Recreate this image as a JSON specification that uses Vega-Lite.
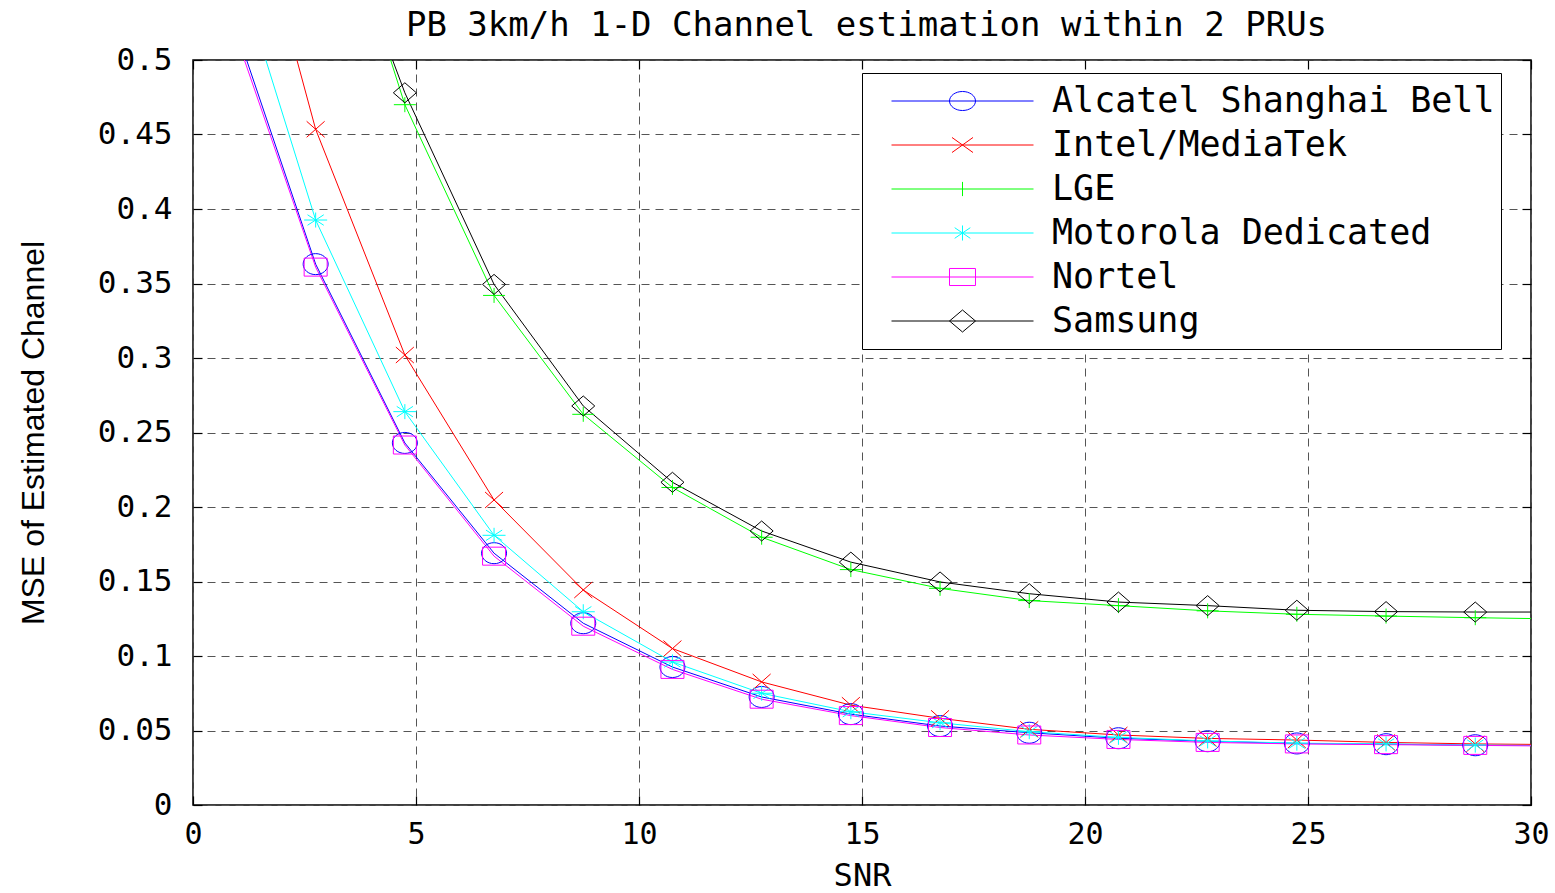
{
  "$schema": "https://vega.github.io/schema/vega-lite/v6.json",
  "width": 1338,
  "height": 745,
  "autosize": {"type": "none"},
  "padding": {"left": 193, "top": 60, "right": 24, "bottom": 88},
  "background": "white",
  "config": {
    "view": {"stroke": "black", "strokeWidth": 1.5},
    "axis": {"domain": false, "tickColor": "black", "tickWidth": 1.2, "tickSize": -9}
  },
  "data": {
    "values": [
      {"series": "Alcatel Shanghai Bell", "snr": 0.75, "mse": 0.54},
      {"series": "Alcatel Shanghai Bell", "snr": 2.75, "mse": 0.363},
      {"series": "Alcatel Shanghai Bell", "snr": 4.75, "mse": 0.243},
      {"series": "Alcatel Shanghai Bell", "snr": 6.75, "mse": 0.169},
      {"series": "Alcatel Shanghai Bell", "snr": 8.75, "mse": 0.122},
      {"series": "Alcatel Shanghai Bell", "snr": 10.75, "mse": 0.0926},
      {"series": "Alcatel Shanghai Bell", "snr": 12.75, "mse": 0.0725},
      {"series": "Alcatel Shanghai Bell", "snr": 14.75, "mse": 0.061},
      {"series": "Alcatel Shanghai Bell", "snr": 16.75, "mse": 0.053},
      {"series": "Alcatel Shanghai Bell", "snr": 18.75, "mse": 0.0485},
      {"series": "Alcatel Shanghai Bell", "snr": 20.75, "mse": 0.0448},
      {"series": "Alcatel Shanghai Bell", "snr": 22.75, "mse": 0.0428},
      {"series": "Alcatel Shanghai Bell", "snr": 24.75, "mse": 0.0413},
      {"series": "Alcatel Shanghai Bell", "snr": 26.75, "mse": 0.0408},
      {"series": "Alcatel Shanghai Bell", "snr": 28.75, "mse": 0.0401},
      {"series": "Alcatel Shanghai Bell", "snr": 30.75, "mse": 0.0398},
      {"series": "Intel/MediaTek", "snr": 0.75, "mse": 0.675},
      {"series": "Intel/MediaTek", "snr": 2.75, "mse": 0.4535},
      {"series": "Intel/MediaTek", "snr": 4.75, "mse": 0.302},
      {"series": "Intel/MediaTek", "snr": 6.75, "mse": 0.2047},
      {"series": "Intel/MediaTek", "snr": 8.75, "mse": 0.1443},
      {"series": "Intel/MediaTek", "snr": 10.75, "mse": 0.105},
      {"series": "Intel/MediaTek", "snr": 12.75, "mse": 0.0826},
      {"series": "Intel/MediaTek", "snr": 14.75, "mse": 0.067},
      {"series": "Intel/MediaTek", "snr": 16.75, "mse": 0.0582},
      {"series": "Intel/MediaTek", "snr": 18.75, "mse": 0.0508},
      {"series": "Intel/MediaTek", "snr": 20.75, "mse": 0.047},
      {"series": "Intel/MediaTek", "snr": 22.75, "mse": 0.0447},
      {"series": "Intel/MediaTek", "snr": 24.75, "mse": 0.0436},
      {"series": "Intel/MediaTek", "snr": 26.75, "mse": 0.042},
      {"series": "Intel/MediaTek", "snr": 28.75, "mse": 0.041},
      {"series": "Intel/MediaTek", "snr": 30.75, "mse": 0.0405},
      {"series": "LGE", "snr": 2.75, "mse": 0.658},
      {"series": "LGE", "snr": 4.75, "mse": 0.47},
      {"series": "LGE", "snr": 6.75, "mse": 0.342},
      {"series": "LGE", "snr": 8.75, "mse": 0.2622},
      {"series": "LGE", "snr": 10.75, "mse": 0.2131},
      {"series": "LGE", "snr": 12.75, "mse": 0.1797},
      {"series": "LGE", "snr": 14.75, "mse": 0.158},
      {"series": "LGE", "snr": 16.75, "mse": 0.1454},
      {"series": "LGE", "snr": 18.75, "mse": 0.1372},
      {"series": "LGE", "snr": 20.75, "mse": 0.1338},
      {"series": "LGE", "snr": 22.75, "mse": 0.1303},
      {"series": "LGE", "snr": 24.75, "mse": 0.128},
      {"series": "LGE", "snr": 26.75, "mse": 0.1268},
      {"series": "LGE", "snr": 28.75, "mse": 0.1257},
      {"series": "LGE", "snr": 30.75, "mse": 0.1248},
      {"series": "Motorola Dedicated", "snr": 0.75, "mse": 0.585},
      {"series": "Motorola Dedicated", "snr": 2.75, "mse": 0.3926},
      {"series": "Motorola Dedicated", "snr": 4.75, "mse": 0.264},
      {"series": "Motorola Dedicated", "snr": 6.75, "mse": 0.181},
      {"series": "Motorola Dedicated", "snr": 8.75, "mse": 0.1297},
      {"series": "Motorola Dedicated", "snr": 10.75, "mse": 0.096},
      {"series": "Motorola Dedicated", "snr": 12.75, "mse": 0.075},
      {"series": "Motorola Dedicated", "snr": 14.75, "mse": 0.0626},
      {"series": "Motorola Dedicated", "snr": 16.75, "mse": 0.0552},
      {"series": "Motorola Dedicated", "snr": 18.75, "mse": 0.0492},
      {"series": "Motorola Dedicated", "snr": 20.75, "mse": 0.0454},
      {"series": "Motorola Dedicated", "snr": 22.75, "mse": 0.043},
      {"series": "Motorola Dedicated", "snr": 24.75, "mse": 0.0415},
      {"series": "Motorola Dedicated", "snr": 26.75, "mse": 0.041},
      {"series": "Motorola Dedicated", "snr": 28.75, "mse": 0.0402},
      {"series": "Motorola Dedicated", "snr": 30.75, "mse": 0.0398},
      {"series": "Nortel", "snr": 0.75, "mse": 0.535},
      {"series": "Nortel", "snr": 2.75, "mse": 0.361},
      {"series": "Nortel", "snr": 4.75, "mse": 0.2416},
      {"series": "Nortel", "snr": 6.75, "mse": 0.167},
      {"series": "Nortel", "snr": 8.75, "mse": 0.12},
      {"series": "Nortel", "snr": 10.75, "mse": 0.091},
      {"series": "Nortel", "snr": 12.75, "mse": 0.071},
      {"series": "Nortel", "snr": 14.75, "mse": 0.06},
      {"series": "Nortel", "snr": 16.75, "mse": 0.052},
      {"series": "Nortel", "snr": 18.75, "mse": 0.047},
      {"series": "Nortel", "snr": 20.75, "mse": 0.044},
      {"series": "Nortel", "snr": 22.75, "mse": 0.042},
      {"series": "Nortel", "snr": 24.75, "mse": 0.041},
      {"series": "Nortel", "snr": 26.75, "mse": 0.0405},
      {"series": "Nortel", "snr": 28.75, "mse": 0.04},
      {"series": "Nortel", "snr": 30.75, "mse": 0.0395},
      {"series": "Samsung", "snr": 2.75, "mse": 0.638},
      {"series": "Samsung", "snr": 4.75, "mse": 0.478},
      {"series": "Samsung", "snr": 6.75, "mse": 0.3494},
      {"series": "Samsung", "snr": 8.75, "mse": 0.2678},
      {"series": "Samsung", "snr": 10.75, "mse": 0.2166},
      {"series": "Samsung", "snr": 12.75, "mse": 0.1839},
      {"series": "Samsung", "snr": 14.75, "mse": 0.163},
      {"series": "Samsung", "snr": 16.75, "mse": 0.1497},
      {"series": "Samsung", "snr": 18.75, "mse": 0.1418},
      {"series": "Samsung", "snr": 20.75, "mse": 0.1362},
      {"series": "Samsung", "snr": 22.75, "mse": 0.1338},
      {"series": "Samsung", "snr": 24.75, "mse": 0.1307},
      {"series": "Samsung", "snr": 26.75, "mse": 0.1298},
      {"series": "Samsung", "snr": 28.75, "mse": 0.1295},
      {"series": "Samsung", "snr": 30.75, "mse": 0.1295}
    ]
  },
  "encoding": {
    "x": {"field": "snr", "type": "quantitative", "scale": {"domain": [0, 30], "nice": false, "zero": false}, "axis": null},
    "y": {"field": "mse", "type": "quantitative", "scale": {"domain": [0, 0.5], "nice": false, "zero": false}, "axis": null}
  },
  "layer": [
    {
      "mark": {"type": "line", "clip": true, "strokeWidth": 1},
      "encoding": {
        "x": {
          "field": "snr", "type": "quantitative",
          "axis": {
            "orient": "bottom", "values": [0, 5, 10, 15, 20, 25, 30],
            "grid": true, "gridDash": [8, 6], "gridColor": "#555555", "gridWidth": 1,
            "labelFont": "DejaVu Sans Mono", "labelFontSize": 30, "labelColor": "black", "labelPadding": 23, "labelFlush": false,
            "title": "SNR", "titleFont": "DejaVu Sans Mono", "titleFontSize": 32, "titleFontWeight": "normal", "titleColor": "black",
            "titleBaseline": "alphabetic", "titleY": 80
          }
        },
        "y": {
          "field": "mse", "type": "quantitative",
          "axis": {
            "orient": "left", "values": [0, 0.05, 0.1, 0.15, 0.2, 0.25, 0.3, 0.35, 0.4, 0.45, 0.5], "format": ".2~f",
            "grid": true, "gridDash": [8, 6], "gridColor": "#555555", "gridWidth": 1,
            "labelFont": "DejaVu Sans Mono", "labelFontSize": 31, "labelColor": "black", "labelPadding": 30,
            "title": "MSE of Estimated Channel", "titleFont": "Liberation Sans", "titleFontSize": 32, "titleFontWeight": "normal", "titleColor": "black",
            "titleBaseline": "alphabetic", "titleX": -150
          }
        },
        "color": {
          "field": "series", "type": "nominal",
          "scale": {
            "domain": ["Alcatel Shanghai Bell", "Intel/MediaTek", "LGE", "Motorola Dedicated", "Nortel", "Samsung"],
            "range": ["#0000ff", "#ff0000", "#00ff00", "#00ffff", "#ff00ff", "#000000"]
          },
          "legend": {
            "title": null, "orient": "none", "legendX": 669, "legendY": 13, "direction": "vertical",
            "symbolSize": 20164, "symbolStrokeWidth": 1, "symbolFillColor": "transparent", "symbolOpacity": 1,
            "labelFont": "DejaVu Sans Mono", "labelFontSize": 35, "labelColor": "black", "labelOffset": 18, "labelLimit": 700,
            "clipHeight": 44, "rowPadding": 0, "padding": 6, "symbolOffset": 23,
            "fillColor": "white", "strokeColor": "black", "cornerRadius": 0
          }
        }
      }
    },
    {
      "transform": [{"filter": "datum.series === 'Alcatel Shanghai Bell'"}],
      "mark": {"type": "point", "clip": true, "filled": false, "strokeWidth": 1, "opacity": 1, "size": 625, "shape": "M-1,0A1,0.84 0 1,1 1,0A1,0.84 0 1,1 -1,0Z"},
      "encoding": {"color": {"field": "series", "type": "nominal", "legend": null}}
    },
    {
      "transform": [{"filter": "datum.series === 'Intel/MediaTek'"}],
      "mark": {"type": "point", "clip": true, "filled": false, "strokeWidth": 1, "opacity": 1, "size": 625, "shape": "M-0.72,-0.64L0.72,0.64M-0.72,0.64L0.72,-0.64"},
      "encoding": {"color": {"field": "series", "type": "nominal", "legend": null}}
    },
    {
      "transform": [{"filter": "datum.series === 'LGE'"}],
      "mark": {"type": "point", "clip": true, "filled": false, "strokeWidth": 1, "opacity": 1, "size": 625, "shape": "M-0.88,0L0.88,0M0,-0.6L0,0.6"},
      "encoding": {"color": {"field": "series", "type": "nominal", "legend": null}}
    },
    {
      "transform": [{"filter": "datum.series === 'Motorola Dedicated'"}],
      "mark": {"type": "point", "clip": true, "filled": false, "strokeWidth": 1, "opacity": 1, "size": 625, "shape": "M-0.92,0L0.92,0M0,-0.6L0,0.6M-0.65,-0.42L0.65,0.42M-0.65,0.42L0.65,-0.42"},
      "encoding": {"color": {"field": "series", "type": "nominal", "legend": null}}
    },
    {
      "transform": [{"filter": "datum.series === 'Nortel'"}],
      "mark": {"type": "point", "clip": true, "filled": false, "strokeWidth": 1, "opacity": 1, "size": 625, "shape": "M-0.92,-0.72L0.92,-0.72L0.92,0.72L-0.92,0.72Z"},
      "encoding": {"color": {"field": "series", "type": "nominal", "legend": null}}
    },
    {
      "transform": [{"filter": "datum.series === 'Samsung'"}],
      "mark": {"type": "point", "clip": true, "filled": false, "strokeWidth": 1, "opacity": 1, "size": 625, "shape": "M-0.92,0L0,-0.8L0.92,0L0,0.8Z"},
      "encoding": {"color": {"field": "series", "type": "nominal", "legend": null}}
    },
    {
      "transform": [{"filter": "datum.mse > 0.5"}],
      "mark": {"type": "point", "clip": true, "filled": false, "strokeWidth": 1, "opacity": 1, "size": 20164},
      "encoding": {
        "x": {
          "field": "snr", "type": "quantitative",
          "axis": {
            "orient": "top", "values": [0, 5, 10, 15, 20, 25, 30], "labels": false, "grid": false,
            "title": "PB 3km/h 1-D Channel estimation within 2 PRUs",
            "titleFont": "DejaVu Sans Mono", "titleFontSize": 34, "titleFontWeight": "normal", "titleColor": "black",
            "titleBaseline": "alphabetic", "titleY": -25, "titleX": 673
          }
        },
        "y": {
          "field": "mse", "type": "quantitative",
          "axis": {"orient": "right", "values": [0, 0.05, 0.1, 0.15, 0.2, 0.25, 0.3, 0.35, 0.4, 0.45, 0.5], "labels": false, "grid": false, "title": null}
        },
        "color": {"field": "series", "type": "nominal", "legend": null},
        "shape": {
          "field": "series", "type": "nominal",
          "scale": {
            "domain": ["Alcatel Shanghai Bell", "Intel/MediaTek", "LGE", "Motorola Dedicated", "Nortel", "Samsung"],
            "range": [
              "M-1,0L1,0M-0.183,0A0.183,0.134 0 1,1 0.183,0A0.183,0.134 0 1,1 -0.183,0Z",
              "M-1,0L1,0M-0.148,-0.106L0.148,0.106M-0.148,0.106L0.148,-0.106",
              "M-1,0L1,0M0,-0.1L0,0.1",
              "M-1,0L1,0M0,-0.106L0,0.106M-0.11,-0.075L0.11,0.075M-0.11,0.075L0.11,-0.075",
              "M-1,0L1,0M-0.183,-0.12L0.183,-0.12L0.183,0.12L-0.183,0.12Z",
              "M-1,0L1,0M-0.183,0L0,-0.155L0.183,0L0,0.155Z"
            ]
          },
          "legend": {
            "title": null, "orient": "none", "legendX": 669, "legendY": 13, "direction": "vertical",
            "symbolSize": 20164, "symbolStrokeWidth": 1, "symbolFillColor": "transparent", "symbolOpacity": 1,
            "labelFont": "DejaVu Sans Mono", "labelFontSize": 35, "labelColor": "black", "labelOffset": 18, "labelLimit": 700,
            "clipHeight": 44, "rowPadding": 0, "padding": 6, "symbolOffset": 23,
            "fillColor": "white", "strokeColor": "black", "cornerRadius": 0
          }
        }
      }
    }
  ],
  "resolve": {"axis": {"x": "independent", "y": "independent"}}
}
